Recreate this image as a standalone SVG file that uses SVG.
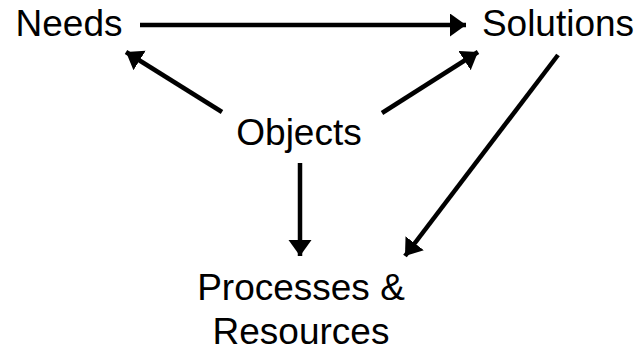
<svg xmlns="http://www.w3.org/2000/svg" width="639" height="352" viewBox="0 0 639 352">
  <style>
    .label { font-family: "Liberation Sans", Arial, sans-serif; font-size: 37px; fill: #000; text-anchor: middle; }
    .edge { stroke: #000; stroke-width: 4.5; fill: none; marker-end: url(#head); }
  </style>
  <defs>
    <marker id="head" markerUnits="userSpaceOnUse" markerWidth="17" markerHeight="24" refX="16" refY="11.5" orient="auto">
      <path d="M0,0 L16,11.5 L0,23 Z" fill="#000"/>
    </marker>
  </defs>
  <rect width="639" height="352" fill="#fff"/>

  <g id="connectors">
    <line class="edge" x1="140" y1="25" x2="466" y2="25"/>
    <line class="edge" x1="222" y1="112" x2="126" y2="52"/>
    <line class="edge" x1="382" y1="113" x2="478" y2="52"/>
    <line class="edge" x1="558" y1="55" x2="405" y2="256"/>
    <line class="edge" x1="300" y1="163" x2="300" y2="256"/>
  </g>

  <g id="needs"><text class="label" x="69" y="36">Needs</text></g>
  <g id="solutions"><text class="label" x="558" y="36">Solutions</text></g>
  <g id="objects"><text class="label" x="299" y="145">Objects</text></g>
  <g id="processes">
    <text class="label" x="301" y="300">Processes &amp;</text>
    <text class="label" x="301" y="344">Resources</text>
  </g>
</svg>
